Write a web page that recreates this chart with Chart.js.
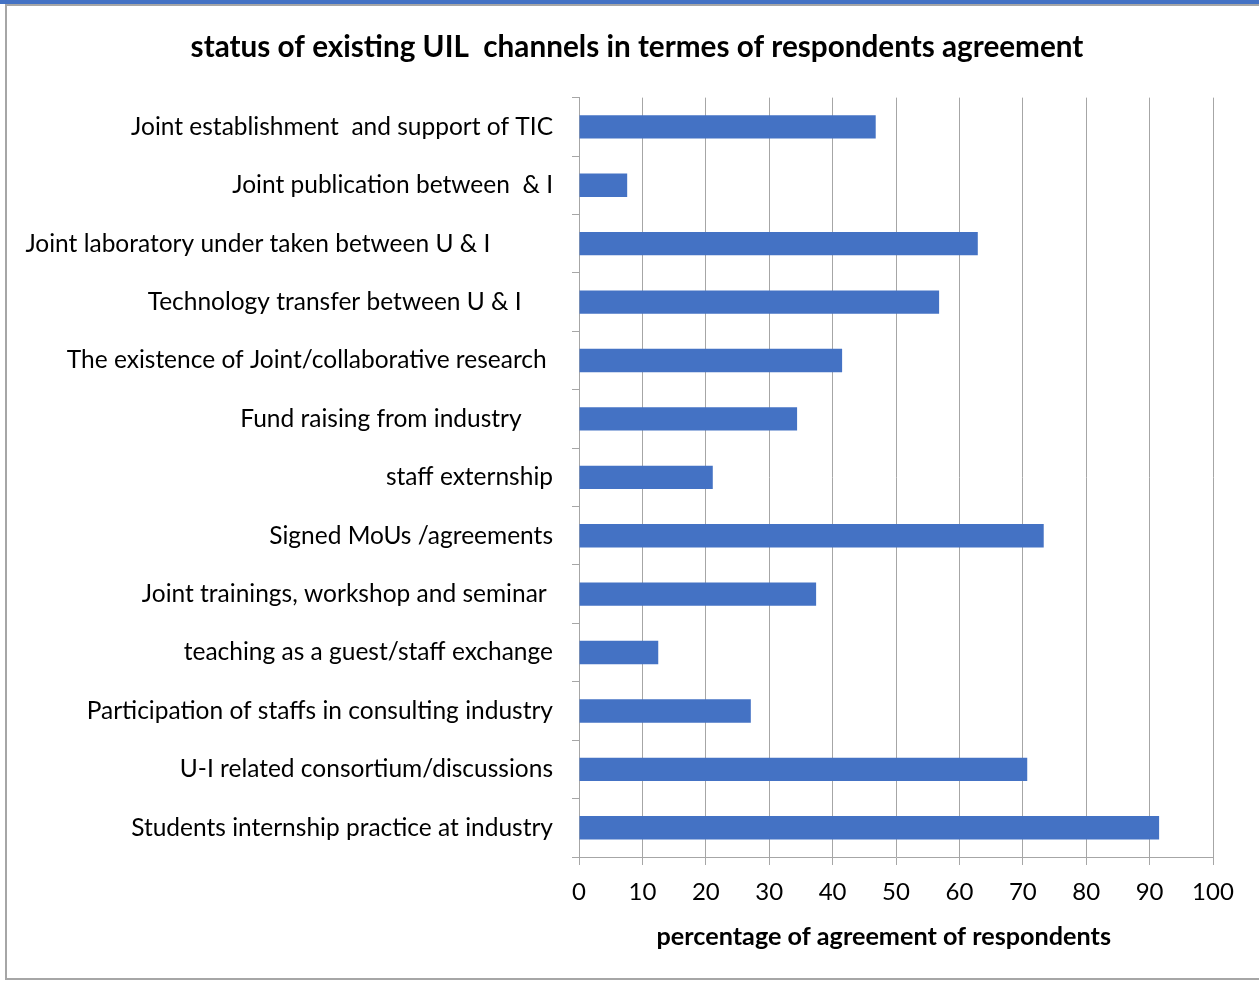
<!DOCTYPE html>
<html>
<head>
<meta charset="utf-8">
<script src="https://cdn.jsdelivr.net/npm/chart.js@4.4.1/dist/chart.umd.min.js"></script>
<style>
  html, body { margin: 0; padding: 0; background: #fff; overflow: hidden; width: 1259px; height: 982px; }
  #topbar { position: absolute; left: 0; top: 0; width: 1259px; height: 4px; background: #4472C4; }
  #frame { position: absolute; left: 5px; top: 4px; width: 1300px; height: 976px; border: 2px solid #a6a6a6; box-sizing: border-box; }
  #wrap { position: absolute; left: 7px; top: 5px; width: 1260px; height: 973px; }
</style>
</head>
<body>
<div id="topbar"></div>
<div id="frame"></div>
<div id="wrap"><canvas id="chart"></canvas></div>
<script>
"use strict";

// categories, top to bottom (trailing spaces kept as in the source labels)
const channels = [
  "Joint establishment  and support of TIC",
  "Joint publication between  & I",
  "Joint laboratory under taken between U & I          ",
  "Technology transfer between U & I     ",
  "The existence of Joint/collaborative research ",
  "Fund raising from industry     ",
  "staff externship",
  "Signed MoUs /agreements",
  "Joint trainings, workshop and seminar ",
  "teaching as a guest/staff exchange",
  "Participation of staffs in consulting industry",
  "U-I related consortium/discussions",
  "Students internship practice at industry"
];

// percentage of agreement
const agreement = [46.8, 7.6, 62.9, 56.8, 41.5, 34.4, 21.1, 73.3, 37.4, 12.5, 27.1, 70.7, 91.5];

const xTicks = [0, 10, 20, 30, 40, 50, 60, 70, 80, 90, 100];

const FONT = "Lato";
const GRID = "#a6a6a6";

new Chart(document.getElementById("chart"), {
  type: "bar",
  data: {
    labels: channels,
    datasets: [{
      data: agreement,
      backgroundColor: "#4472C4",
      borderWidth: 0,
      barPercentage: 0.4,
      categoryPercentage: 1
    }]
  },
  options: {
    indexAxis: "y",
    responsive: true,
    maintainAspectRatio: false,
    animation: false,
    layout: { padding: 0 },
    plugins: {
      legend: { display: false },
      tooltip: { enabled: false },
      title: {
        display: true,
        text: "status of existing UIL  channels in termes of respondents agreement",
        color: "#000",
        font: { family: FONT, size: 29.7, weight: "bold" },
        padding: { top: 25, bottom: 32 }
      }
    },
    scales: {
      x: {
        min: 0,
        max: 100,
        afterBuildTicks: (scale) => { scale.ticks = xTicks.map(v => ({ value: v })); },
        afterFit: (scale) => { scale.height = 121; },
        border: { display: true, color: GRID, width: 1 },
        grid: { color: GRID, lineWidth: 1, tickLength: 8, drawTicks: true },
        ticks: { color: "#000", font: { family: FONT, size: 24 }, padding: 13, maxRotation: 0 },
        title: {
          display: true,
          text: "percentage of agreement of respondents    ",
          color: "#000",
          font: { family: FONT, size: 25.2, weight: "bold" },
          padding: { top: 0, bottom: 26 }
        }
      },
      y: {
        afterFit: (scale) => { scale.width = 572; },
        border: { display: true, color: GRID, width: 1 },
        grid: { display: true, drawOnChartArea: false, color: GRID, tickLength: 7, offset: true },
        ticks: { color: "#000", font: { family: FONT, size: 24.5 }, padding: 19, autoSkip: false }
      },
      // empty right-hand margin so the chart title centres like the original
      yRight: {
        type: "linear",
        position: "right",
        afterFit: (scale) => { scale.width = 54; },
        border: { display: false },
        grid: { display: false, drawTicks: false },
        ticks: { display: false }
      }
    }
  }
});
</script>
</body>
</html>
